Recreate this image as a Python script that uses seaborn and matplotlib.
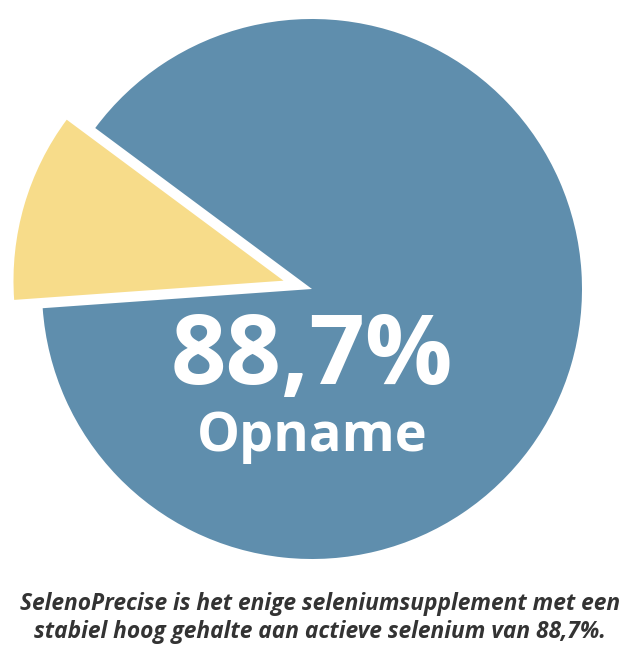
import matplotlib
matplotlib.use('Agg')
import matplotlib.pyplot as plt
import seaborn as sns

# data
labels = ['Overig', 'Opname']
values = [11.3, 88.7]
colors = ['#F7DC8A', '#5F8EAD']
explode = [0.11, 0]

sns.set_style('white')
plt.rcParams['font.family'] = ['Open Sans', 'DejaVu Sans']

fig = plt.figure(figsize=(6.4, 6.54), dpi=100)
ax = fig.add_axes([0, 0, 1, 1])

# pie centre at pixel (312, 289), radius 270 px
ax.pie(values, colors=colors, explode=explode, startangle=143.4,
       counterclock=True, radius=1, wedgeprops={'linewidth': 0})
ax.set_xlim(-312 / 270, (640 - 312) / 270)
ax.set_ylim(-(654 - 289) / 270, 289 / 270)
ax.set_aspect('auto')
ax.axis('off')

ax.text(0.0, -0.35, '88,7%', color='white', fontsize=70, fontweight='bold',
        ha='center', va='baseline')
ax.text(0.0, -0.60, 'Opname', color='white', fontsize=39, fontweight='bold',
        ha='center', va='baseline')

caption = ['SelenoPrecise is het enige seleniumsupplement met een',
           'stabiel hoog gehalte aan actieve selenium van 88,7%.']
fig.text(0.5, 1 - 610 / 654, caption[0],
         ha='center', va='baseline', fontsize=16.4, fontweight='bold',
         fontstyle='italic', color='#333333')
fig.text(0.5, 1 - 638 / 654, caption[1],
         ha='center', va='baseline', fontsize=16.4, fontweight='bold',
         fontstyle='italic', color='#333333')

fig.savefig('out.png', dpi=100)
